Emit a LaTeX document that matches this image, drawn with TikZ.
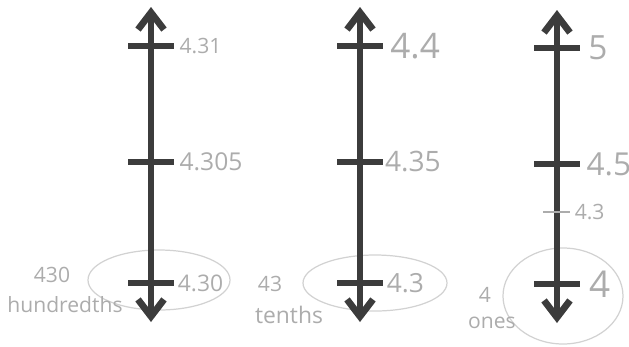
\documentclass[tikz,border=0pt]{standalone}
\usepackage{fontspec}
\setmainfont{Open Sans}
\usetikzlibrary{arrows.meta,positioning}
\definecolor{inkgray}{RGB}{60,60,60}
\definecolor{pencil}{RGB}{172,172,172}
\definecolor{faint}{RGB}{210,210,210}

\begin{document}
\begin{tikzpicture}[
    x=0.02cm, y=-0.02cm,
    numline/.style={{Straight Barb[length=3.4mm,width=5.2mm]}-{Straight Barb[length=3.4mm,width=5.2mm]}, line width=1.35mm, inkgray},
    tickmark/.style={line width=1.2mm, inkgray},
    val/.style={inner sep=0pt, text=pencil},
    note/.style={inner sep=0pt, text=pencil, align=center},
    loop/.style={draw=faint, line width=0.7pt}
]
    \useasboundingbox (0,0) rectangle (629,346);

    \draw[loop] (159,280) ellipse (71 and 30);
    \draw[loop] (375,283) ellipse (72 and 28);
    \draw[loop] (563,296) ellipse (60 and 48);

    \coordinate (topA) at (151,7);
    \coordinate (botA) at (151,322);
    \coordinate (topB) at (360,7);
    \coordinate (botB) at (360,322);
    \coordinate (topC) at (557,10);
    \coordinate (botC) at (557,323);

    \draw[numline] (botA) -- (topA);
    \draw[numline] (botB) -- (topB);
    \draw[numline] (botC) -- (topC);

    \foreach \nm/\xx/\yy in {a1/151/46, a2/151/162, a3/151/283, b1/360/46, b2/360/162, b3/360/283, c1/557/48, c2/557/164, c3/557/284}
        \draw[tickmark] (\xx-23,\yy) -- (\xx+23,\yy) coordinate (\nm);

    \draw[pencil, line width=0.8pt] (543,212) -- (570,212) coordinate (c4);

    \node[val, font=\fontsize{12}{12}\selectfont, right=3pt of a1] (v431) {4.31};
    \node[val, font=\fontsize{14}{14}\selectfont, right=3pt of a2] (v4305) {4.305};
    \node[val, font=\fontsize{13}{13}\selectfont, right=2pt of a3] (v430) {4.30};

    \node[val, font=\fontsize{20}{20}\selectfont, right=4pt of b1] (v44) {4.4};
    \node[val, font=\fontsize{16}{16}\selectfont, right=1pt of b2] (v435) {4.35};
    \node[val, font=\fontsize{15}{15}\selectfont, right=2pt of b3] (v43) {4.3};

    \node[val, font=\fontsize{19}{19}\selectfont, right=4.5pt of c1] (v5) {5};
    \node[val, font=\fontsize{18}{18}\selectfont, right=3.5pt of c2] (v45) {4.5};
    \node[val, font=\fontsize{12}{12}\selectfont, right=2.5pt of c4] (vmid) {4.3};
    \node[val, font=\fontsize{21}{21}\selectfont, right=5pt of c3] (v4) {4};

    \node[note, font=\fontsize{12}{12}\selectfont] (n430) at (52,275) {430};
    \node[note, font=\fontsize{12}{12}\selectfont] (nhund) at (65,305) {hundredths};
    \node[note, font=\fontsize{12}{12}\selectfont] (n43) at (270,284) {43};
    \node[note, font=\fontsize{13}{13}\selectfont] (nten) at (289,315) {tenths};
    \node[note, font=\fontsize{12}{12}\selectfont] (n4) at (485,295) {4};
    \node[note, font=\fontsize{12}{12}\selectfont] (nones) at (492,323) {ones};
\end{tikzpicture}
\end{document}
